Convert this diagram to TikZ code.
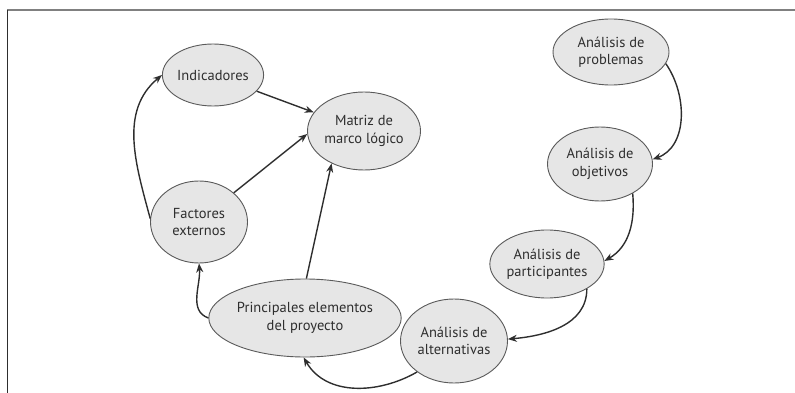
\documentclass[tikz,border=0pt]{standalone}
\usepackage{fontspec}
\setmainfont{PT Sans}
\usetikzlibrary{shapes.geometric, arrows.meta}

\definecolor{bubblefill}{HTML}{E6E6E6}
\definecolor{bubbleline}{HTML}{5A5A5A}
\definecolor{inkgray}{HTML}{2E2E2E}

\tikzset{
  bubble/.style={ellipse, draw=bubbleline, fill=bubblefill, line width=0.9pt,
    inner sep=0pt, align=center, text=inkgray,
    font=\fontsize{14.5}{17.5}\selectfont},
  flow/.style={->, draw=inkgray, line width=1.4pt}
}

\begin{document}
\begin{tikzpicture}[x=1pt, y=1pt, >={Stealth[length=9pt, width=7pt]}]

  \useasboundingbox (0,0) rectangle (795,-393);

  % === Frame (top and left only) ===
  \draw[gray, line width=2pt] (7,-10) -- (795,-10);
  \draw[inkgray, line width=0.8pt] (7,-10) -- (7,-393);

  % === Left group ===
  \node[bubble, minimum width=95, minimum height=62] (ind) at (213,-75) {Indicadores};
  \node[bubble, minimum width=113, minimum height=78] (matriz) at (364,-131) {Matriz de\\marco lógico};
  \node[bubble, minimum width=97, minimum height=82] (fact) at (199,-222) {Factores\\externos};
  \node[bubble, minimum width=155, minimum height=78] (princ) at (305,-318) {Principales elementos\\del proyecto};

  % === Right chain of analyses ===
  \node[bubble, minimum width=116, minimum height=66] (prob) at (611,-52) {Análisis de\\problemas};
  \node[bubble, minimum width=105, minimum height=74] (obj) at (600,-164) {Análisis de\\objetivos};
  \node[bubble, minimum width=105, minimum height=68] (part) at (547,-264) {Análisis de\\participantes};
  \node[bubble, minimum width=107, minimum height=84] (alt) at (454,-341) {Análisis de\\alternativas};

  % === Curved arrows along the sequence ===
  \draw[flow] (prob.-12) to[out=-55, in=20] (obj.5);
  \draw[flow] (obj.-42) to[out=-85, in=30] (part.3);
  \draw[flow] (part.-32) to[out=-90, in=5] (alt.2);
  \draw[flow] (alt.-140) to[out=-150, in=-60] (princ.-92);
  \draw[flow] (princ.180) to[out=160, in=-85] (fact.-90);
  \draw[flow] (fact.176) to[out=105, in=220] (ind.180);

  % === Straight arrows into the matrix ===
  \draw[flow] (ind) -- (matriz);
  \draw[flow] (fact.40) -- (matriz.183);
  \draw[flow] (princ.88) -- (matriz.225);

\end{tikzpicture}
\end{document}
